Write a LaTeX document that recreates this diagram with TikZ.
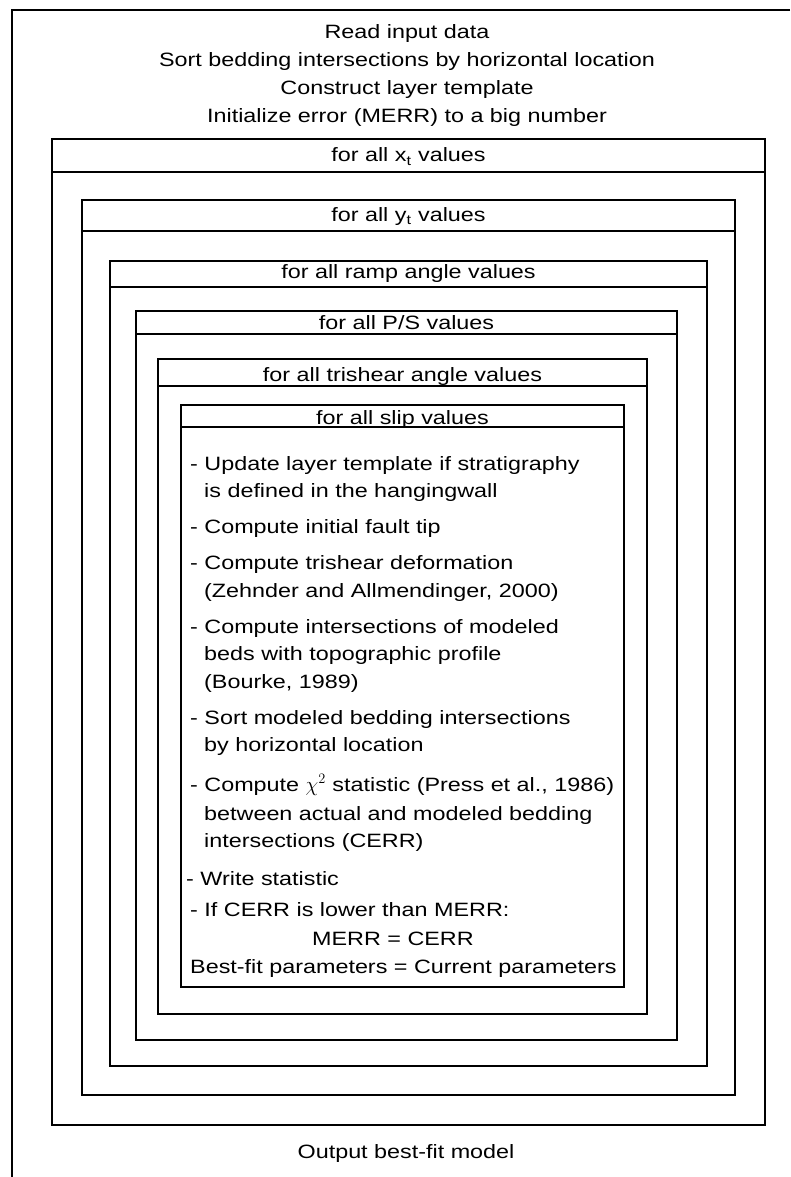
\documentclass[tikz,border=0pt]{standalone}
\usepackage{fontspec}
\setmainfont{Liberation Sans}[FakeStretch=1.21]
\tikzset{
  loopframe/.style={draw=black, line width=1.3pt},
  looplabel/.style={anchor=base, inner sep=0pt},
  steptext/.style={anchor=base west, inner sep=0pt}
}

\begin{document}
\begin{tikzpicture}[x=1pt, y=-1pt, font=\fontsize{19.3}{27.7}\selectfont]
\useasboundingbox (0,0) rectangle (790,1177);

% outer frame: only top and left edges are drawn
\draw[loopframe] (790,10) -- (12,10) -- (12,1177);

\node[looplabel] at (407,39) (read) {Read input data};
\node[looplabel] at (407,67) (sortin) {Sort bedding intersections by horizontal location};
\node[looplabel] at (407,95) (templ) {Construct layer template};
\node[looplabel] at (407,123) (init) {Initialize error (MERR) to a big number};

% nested loops, outermost first
\draw[loopframe] (52,139) rectangle (765,1125);
\draw[loopframe] (52,172) -- (765,172);
\node[looplabel] at (408.5,162) (xloop) {for all x\textsubscript{t} values};

\draw[loopframe] (82,200) rectangle (735,1095);
\draw[loopframe] (82,231) -- (735,231);
\node[looplabel] at (408.5,221.5) (yloop) {for all y\textsubscript{t} values};

\draw[loopframe] (110,261) rectangle (707,1066);
\draw[loopframe] (110,287) -- (707,287);
\node[looplabel] at (408.5,278.5) (ramploop) {for all ramp angle values};

\draw[loopframe] (136,311) rectangle (677,1040);
\draw[loopframe] (136,334) -- (677,334);
\node[looplabel] at (406.5,329) (psloop) {for all P/S values};

\draw[loopframe] (158,359) rectangle (647,1014);
\draw[loopframe] (158,386) -- (647,386);
\node[looplabel] at (402.5,381.5) (triloop) {for all trishear angle values};

\draw[loopframe] (181,405) rectangle (624,987);
\draw[loopframe] (181,427) -- (624,427);
\node[looplabel] at (402.5,424) (sliploop) {for all slip values};

% body of the innermost loop
\node[steptext] at (190,470) (upd1) {- Update layer template if stratigraphy};
\node[steptext] at (204,497.5) (upd2) {is defined in the hangingwall};
\node[steptext] at (190,533.5) (tip) {- Compute initial fault tip};
\node[steptext] at (190,569.5) (tri1) {- Compute trishear deformation};
\node[steptext] at (204,597) (tri2) {(Zehnder and Allmendinger, 2000)};
\node[steptext] at (190,633) (isc1) {- Compute intersections of modeled};
\node[steptext] at (204,660.5) (isc2) {beds with topographic profile};
\node[steptext] at (204,688) (isc3) {(Bourke, 1989)};
\node[steptext] at (190,724) (srt1) {- Sort modeled bedding intersections};
\node[steptext] at (204,751.5) (srt2) {by horizontal location};
\node[steptext] at (190,791.5) (chi1) {- Compute $\chi^{2}$ statistic (Press et al., 1986)};
\node[steptext] at (204,820) (chi2) {between actual and modeled bedding};
\node[steptext] at (204,847) (chi3) {intersections (CERR)};
\node[steptext] at (186,885) (wrt) {- Write statistic};
\node[steptext] at (190,916.5) (cmp1) {- If CERR is lower than MERR:};
\node[steptext] at (312,945) (cmp2) {MERR = CERR};
\node[steptext] at (190,973) (cmp3) {Best-fit parameters = Current parameters};

\node[looplabel] at (406,1158) (output) {Output best-fit model};
\end{tikzpicture}
\end{document}
